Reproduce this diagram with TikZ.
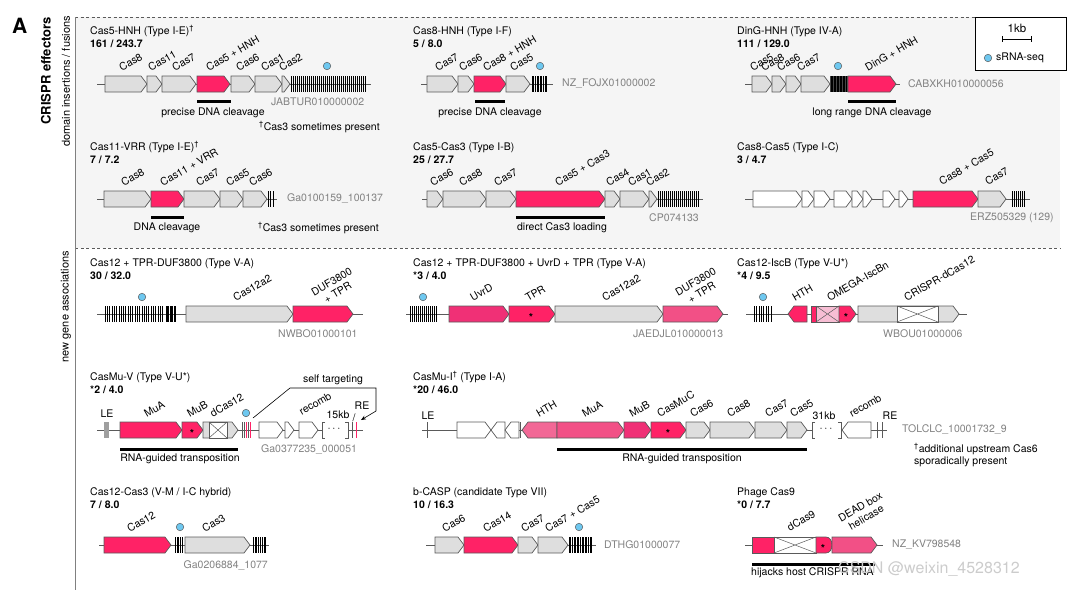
\documentclass[tikz,border=0pt]{standalone}
\usepackage{fontspec}
\setmainfont{TeX Gyre Heros}
\usetikzlibrary{arrows.meta}
\definecolor{pk}{RGB}{255,34,102}
\definecolor{pkB}{RGB}{240,48,118}
\definecolor{pkC}{RGB}{242,80,134}
\definecolor{pkD}{RGB}{242,104,150}
\definecolor{pkL}{RGB}{247,190,212}
\definecolor{gf}{RGB}{222,222,222}
\definecolor{gd}{RGB}{90,90,90}
\definecolor{accc}{RGB}{130,130,130}
\definecolor{panel}{RGB}{245,245,245}
\definecolor{sky}{RGB}{110,200,240}
\tikzset{
  gn/.style={draw=gd, line width=0.7pt, line join=miter},
  bb/.style={draw=gd, line width=0.8pt},
  arl/.style={black, line width=0.55pt},
  glab/.style={anchor=south west, rotate=30, inner sep=0pt, font=\fontsize{10.5}{12}\selectfont},
  ttl/.style={anchor=base west, inner sep=0pt, font=\fontsize{10.5}{12}\selectfont},
  cnt/.style={anchor=base west, inner sep=0pt, font=\fontsize{10.5}{12}\selectfont\bfseries},
  acc/.style={anchor=west, inner sep=0pt, text=accc, font=\fontsize{10.5}{12}\selectfont},
  note/.style={inner sep=0pt, font=\fontsize{10.5}{12}\selectfont},
  bar/.style={line width=3pt, black},
  dot/.style={circle, fill=sky, draw=gd, line width=0.5pt, minimum size=7.5pt, inner sep=0pt},
  star/.style={inner sep=0pt, font=\fontsize{11}{11}\selectfont\bfseries},
}
\newcommand\gene[4]{\pgfmathsetmacro\gtip{min(6,(#2)-(#1))}\draw[gn,fill=#4] (#1,{#3-8}) -- ({#2-\gtip},{#3-8}) -- (#2,#3) -- ({#2-\gtip},{#3+8}) -- (#1,{#3+8}) -- cycle;}
\newcommand\rgene[4]{\pgfmathsetmacro\gtip{min(6,(#2)-(#1))}\draw[gn,fill=#4] (#2,{#3-8}) -- ({#1+\gtip},{#3-8}) -- (#1,#3) -- ({#1+\gtip},{#3+8}) -- (#2,{#3+8}) -- cycle;}
\newcommand\xbox[4]{\draw[gn,fill=#4] (#1,{#3-8}) rectangle (#2,{#3+8}); \draw[gd,line width=0.5pt] (#1,{#3-8}) -- (#2,{#3+8}) (#1,{#3+8}) -- (#2,{#3-8});}
\newcommand\arr[4]{\pgfmathsetmacro\asec{#1+#3}\foreach \i in {#1,\asec,...,#2} {\draw[arl] (\i,{#4-8}) -- (\i,{#4+8});}}
\newcommand\glab[4]{\node[glab] (#1) at (#2,#3) {#4};}
\begin{document}
\begin{tikzpicture}[x=1pt,y=-1pt]
\useasboundingbox (0,0) rectangle (1072,590);
% panels
\fill[panel] (75,17) rectangle (1060,248);
\draw[gd, dashed, dash pattern=on 3pt off 2.5pt, line width=0.6pt] (75,17) -- (1060,17) (75,248) -- (1060,248);
\draw[gray, line width=1pt] (75,17) -- (75,590);
\node[anchor=base west, inner sep=0pt, font=\fontsize{21}{21}\selectfont\bfseries] (lA) at (12,33) {A};
\node[rotate=90, anchor=east, inner sep=0pt, font=\fontsize{13}{13}\selectfont\bfseries] (side1) at (46,17) {CRISPR effectors};
\node[rotate=90, anchor=east, inner sep=0pt, font=\fontsize{11}{11}\selectfont] (side2) at (66,16) {domain insertions / fusions};
\node[rotate=90, anchor=east, inner sep=0pt, font=\fontsize{11}{11}\selectfont] (side3) at (66,251) {new gene associations};
% legend
\draw[black, fill=white, line width=0.8pt] (975,17) rectangle (1066,70);
\node[note, font=\fontsize{11.5}{12}\selectfont] (kb) at (1017,28) {1kb};
\draw[line width=0.8pt] (1002,39) -- (1031,39) (1002,36) -- (1002,42) (1031,36) -- (1031,42);
\node[dot] (ldot) at (988,58) {};
\node[note, anchor=west] (lsr) at (996,58) {sRNA-seq};

% ---------- Locus 1: Cas5-HNH
\node[ttl] (t1) at (90,34) {Cas5-HNH (Type I-E)\textsuperscript{\textdagger}};
\node[cnt] (c1) at (90,47) {161 / 243.7};
\draw[bb] (97,84) -- (371,84);
\gene{105}{147}{84}{gf}\gene{147}{162}{84}{gf}\gene{162}{196}{84}{gf}
\gene{197}{230}{84}{pk}\gene{231}{255}{84}{gf}\gene{255}{282}{84}{gf}\gene{282}{290}{84}{gf}
\arr{291}{366}{2}{84}
\node[dot] (d1) at (327,66) {};
\glab{g1a}{122}{72}{Cas8}\glab{g1b}{151}{72}{Cas11}\glab{g1c}{175}{72}{Cas7}
\glab{g1d}{209}{72}{Cas5 + HNH}\glab{g1e}{239}{72}{Cas6}\glab{g1f}{264}{72}{Cas1}\glab{g1g}{282}{72}{Cas2}
\draw[bar] (197,101) -- (231,101);
\node[note] (n1) at (213,113) {precise DNA cleavage};
\node[acc] (a1) at (271,102) {JABTUR010000002};
\node[note, anchor=west] (n1b) at (259,127) {\textsuperscript{\textdagger}Cas3 sometimes present};

% ---------- Locus 2: Cas8-HNH
\node[ttl] (t2) at (413,34) {Cas8-HNH (Type I-F)};
\node[cnt] (c2) at (413,47) {5 / 8.0};
\draw[bb] (421,84) -- (553,84);
\gene{427}{458}{84}{gf}\gene{458}{474}{84}{gf}\gene{474}{506}{84}{pk}\gene{506}{530}{84}{gf}
\arr{532}{548}{1.6}{84}
\node[dot] (d2) at (540,66) {};
\glab{g2a}{438}{72}{Cas7}\glab{g2b}{462}{72}{Cas6}\glab{g2c}{486}{72}{Cas8 + HNH}\glab{g2d}{513}{72}{Cas5}
\draw[bar] (475,101) -- (505,101);
\node[note] (n2) at (490,113) {precise DNA cleavage};
\node[acc] (a2) at (562,84) {NZ\_FOJX01000002};

% ---------- Locus 3: DinG-HNH
\node[ttl] (t3) at (737,34) {DinG-HNH (Type IV-A)};
\node[cnt] (c3) at (737,47) {111 / 129.0};
\draw[bb] (745,84) -- (900,84);
\gene{752}{772}{84}{gf}\gene{772}{786}{84}{gf}\gene{786}{801}{84}{gf}\gene{801}{830}{84}{gf}
\fill[gray!55!black] (830,76) rectangle (848,92);
\arr{831}{847}{1.5}{84}
\gene{848}{896}{84}{pk}
\node[dot] (d3) at (838,66) {};
\glab{g3a}{753}{72}{Cas5}\glab{g3b}{764}{72}{Cas8}\glab{g3c}{780}{72}{Cas6}\glab{g3d}{800}{72}{Cas7}\glab{g3e}{868}{72}{DinG + HNH}
\draw[bar] (848,101) -- (896,101);
\node[note] (n3) at (872,113) {long range DNA cleavage};
\node[acc] (a3) at (908,84) {CABXKH010000056};

% ---------- Locus 4: Cas11-VRR
\node[ttl] (t4) at (90,150) {Cas11-VRR (Type I-E)\textsuperscript{\textdagger}};
\node[cnt] (c4) at (90,163) {7 / 7.2};
\draw[bb] (97,199) -- (277,199);
\gene{104}{151}{199}{gf}\gene{151}{184}{199}{pk}\gene{184}{220}{199}{gf}\gene{220}{243}{199}{gf}\gene{243}{267}{199}{gf}
\arr{268}{274}{2.5}{199}
\glab{g4a}{124}{187}{Cas8}\glab{g4b}{163}{187}{Cas11 + VRR}\glab{g4c}{199}{187}{Cas7}\glab{g4d}{229}{187}{Cas5}\glab{g4e}{252}{187}{Cas6}
\draw[bar] (151,217) -- (184,217);
\node[note] (n4) at (167,228) {DNA cleavage};
\node[acc] (a4) at (287,199) {Ga0100159\_100137};
\node[note, anchor=west] (n4b) at (258,228) {\textsuperscript{\textdagger}Cas3 sometimes present};

% ---------- Locus 5: Cas5-Cas3
\node[ttl] (t5) at (413,150) {Cas5-Cas3 (Type I-B)};
\node[cnt] (c5) at (413,163) {25 / 27.7};
\draw[bb] (422,199) -- (703,199);
\gene{427}{443}{199}{gf}\gene{443}{486}{199}{gf}\gene{486}{516}{199}{gf}\gene{516}{605}{199}{pk}
\gene{605}{620}{199}{gf}\gene{620}{649}{199}{gf}\gene{649}{657}{199}{gf}
\arr{658}{698}{2}{199}
\glab{g5a}{433}{187}{Cas6}\glab{g5b}{462}{187}{Cas8}\glab{g5c}{497}{187}{Cas7}\glab{g5d}{558}{187}{Cas5 + Cas3}
\glab{g5e}{609}{187}{Cas4}\glab{g5f}{631}{187}{Cas1}\glab{g5g}{649}{187}{Cas2}
\draw[bar] (516,217) -- (605,217);
\node[note] (n5) at (562,228) {direct Cas3 loading};
\node[acc] (a5) at (649,218) {CP074133};

% ---------- Locus 6: Cas8-Cas5
\node[ttl] (t6) at (737,150) {Cas8-Cas5 (Type I-C)};
\node[cnt] (c6) at (737,163) {3 / 4.7};
\draw[bb] (745,199) -- (1030,199);
\gene{753}{802}{199}{white}\gene{802}{814}{199}{white}\gene{814}{830}{199}{white}
\gene{834}{852}{199}{white}\gene{852}{863}{199}{white}\gene{863}{872}{199}{white}
\gene{883}{895}{199}{white}\gene{899}{908}{199}{white}
\gene{913}{978}{199}{pk}\gene{978}{1006}{199}{gf}
\arr{1012}{1025}{2}{199}
\glab{g6a}{942}{186}{Cas8 + Cas5}\glab{g6b}{988}{186}{Cas7}
\node[acc] (a6) at (970,218) {ERZ505329 (129)};

% ---------- Locus 7: Cas12 + TPR-DUF3800
\node[ttl] (t7) at (90,266) {Cas12 + TPR-DUF3800 (Type V-A)};
\node[cnt] (c7) at (90,279) {30 / 32.0};
\draw[bb] (97,314) -- (363,314);
\arr{105}{163}{2.3}{314}
\arr{166}{176}{1.3}{314}
\gene{186}{293}{314}{gf}\gene{293}{353}{314}{pk}
\node[dot] (d7) at (142,297) {};
\glab{g7a}{236}{302}{Cas12a2}
\node[glab, align=center] (g7b) at (320,307) {DUF3800\\+ TPR};
\node[acc] (a7) at (278,334) {NWBO01000101};

% ---------- Locus 8
\node[ttl] (t8) at (413,266) {Cas12 + TPR-DUF3800 + UvrD + TPR (Type V-A)};
\node[cnt] (c8) at (413,279) {*3 / 4.0};
\draw[bb] (406,314) -- (728,314);
\arr{410}{436}{2}{314}
\gene{449}{509}{314}{pkB}\gene{509}{555}{314}{pk}\gene{555}{663}{314}{gf}\gene{663}{723}{314}{pkC}
\node[star] (s8) at (531,317) {*};
\node[dot] (d8) at (423,297) {};
\glab{g8a}{473}{302}{UvrD}\glab{g8b}{528}{302}{TPR}\glab{g8c}{605}{302}{Cas12a2}
\node[glab, align=center] (g8d) at (684,307) {DUF3800\\+ TPR};
\node[acc] (a8) at (633,334) {JAEDJL010000013};

% ---------- Locus 9: Cas12-IscB
\node[ttl] (t9) at (737,266) {Cas12-IscB (Type V-U*)};
\node[cnt] (c9) at (737,279) {*4 / 9.5};
\draw[bb] (746,314) -- (967,314);
\arr{754}{773}{2.4}{314}
\rgene{788}{807}{314}{pk}
\draw[gn,fill=pk] (811,306) rectangle (816,322);
\xbox{816}{839}{314}{pkL}
\gene{839}{856}{314}{pk}
\node[star] (s9) at (846,317) {*};
\gene{858}{959}{314}{gf}
\xbox{897}{938}{314}{white}
\node[dot] (d9) at (763,297) {};
\glab{g9a}{795}{302}{HTH}\glab{g9b}{830}{302}{OMEGA-IscBn}\glab{g9c}{907}{302}{CRISPR-dCas12}
\node[acc] (a9) at (883,334) {WBOU01000006};

% ---------- Locus 10: CasMu-V
\node[ttl] (t10) at (90,380) {CasMu-V (Type V-U*)};
\node[cnt] (c10) at (90,393) {*2 / 4.0};
\draw[bb] (97,430) -- (363,430);
\fill[gray!75] (104,422) rectangle (109,438);
\gene{120}{182}{430}{pk}\gene{182}{203}{430}{pk}
\node[star] (s10) at (192,433) {*};
\gene{203}{238}{430}{gf}
\xbox{209}{227}{430}{white}
\foreach \xx/\cc in {242/gd,244/gd,246/pk,248/gd,250/pk} {\draw[\cc, line width=0.6pt] (\xx,422) -- (\xx,438);}
\gene{259}{283}{430}{white}\gene{285}{294}{430}{white}\gene{299}{318}{430}{white}
\fill[white] (322,421) rectangle (348,439);
\draw[gd, line width=0.8pt] (325,422) -- (322,422) -- (322,438) -- (325,438);
\draw[gd, line width=0.8pt] (345,422) -- (348,422) -- (348,438) -- (345,438);
\node[note] (dots10) at (334,429) {$\cdots$};
\draw[gd, line width=0.8pt] (352,422) -- (352,438);
\draw[pk, line width=0.8pt] (356,422) -- (356,438);
\node[dot] (d10) at (246,413) {};
\node[note] (le10) at (107,414) {LE};
\node[note] (re10) at (362,406) {RE};
\node[note] (kb10) at (338,415) {15kb};
\node[note] (sl10) at (354,418) {/};
\glab{g10a}{147}{418}{MuA}\glab{g10b}{190}{418}{MuB}\glab{g10c}{213}{418}{dCas12}\glab{g10d}{302}{416}{recomb}
\node[note] (st) at (333,380) {self targeting};
\coordinate (st0) at (253,418);
\coordinate (st1) at (361,420);
\draw[black, line width=0.6pt, -{Stealth[length=5pt,width=4pt]}] (st0) -- (290,388) -- (376,388) -- (376,411) -- (st1);
\draw[bar] (120,449) -- (238,449);
\node[note] (n10) at (180,459) {RNA-guided transposition};
\node[acc] (a10) at (261,449) {Ga0377235\_000051};

% ---------- Locus 11: CasMu-I
\node[ttl] (t11) at (413,380) {CasMu-I\textsuperscript{\textdagger} (Type I-A)};
\node[cnt] (c11) at (413,393) {*20 / 46.0};
\draw[bb] (422,430) -- (887,430);
\draw[gd, line width=0.8pt] (427,422) -- (427,438);
\gene{457}{491}{430}{white}\rgene{491}{505}{430}{white}\rgene{505}{519}{430}{white}
\draw[gd, line width=0.8pt] (520,422) -- (520,438);
\rgene{522}{557}{430}{pkD}
\gene{557}{624}{430}{pkC}\gene{624}{651}{430}{pkB}\gene{651}{686}{430}{pk}
\node[star] (s11) at (668,433) {*};
\gene{686}{710}{430}{gf}\gene{710}{755}{430}{gf}\gene{755}{787}{430}{gf}\gene{787}{807}{430}{gf}
\fill[white] (812,421) rectangle (841,439);
\draw[gd, line width=0.8pt] (815,422) -- (812,422) -- (812,438) -- (815,438);
\draw[gd, line width=0.8pt] (838,422) -- (841,422) -- (841,438) -- (838,438);
\node[note] (dots11) at (826,429) {$\cdots$};
\rgene{842}{871}{430}{white}
\draw[gd, line width=0.8pt] (877,422) -- (877,438) (882,422) -- (882,438);
\node[note] (le11) at (428,416) {LE};
\node[note] (re11) at (890,416) {RE};
\node[note] (kb11) at (824,416) {31kb};
\glab{g11a}{539}{418}{HTH}\glab{g11b}{585}{418}{MuA}\glab{g11c}{632}{418}{MuB}\glab{g11d}{660}{418}{CasMuC}
\glab{g11e}{693}{418}{Cas6}\glab{g11f}{730}{418}{Cas8}\glab{g11g}{768}{418}{Cas7}\glab{g11h}{793}{418}{Cas5}\glab{g11i}{852}{418}{recomb}
\draw[bar] (557,449) -- (807,449);
\node[note] (n11) at (682,459) {RNA-guided transposition};
\node[acc] (a11) at (902,430) {TOLCLC\_10001732\_9};
\node[note, anchor=west] (n11b) at (914,449) {\textsuperscript{\textdagger}additional upstream Cas6};
\node[note, anchor=west] (n11c) at (914,462) {sporadically present};

% ---------- Locus 12: Cas12-Cas3
\node[ttl] (t12) at (90,495) {Cas12-Cas3 (V-M / I-C hybrid)};
\node[cnt] (c12) at (90,508) {7 / 8.0};
\draw[bb] (99,545) -- (269,545);
\gene{104}{171}{545}{pk}
\arr{175}{184}{1.8}{545}
\gene{185}{250}{545}{gf}
\arr{253}{266}{1.8}{545}
\node[dot] (d12) at (180,527) {};
\glab{g12a}{130}{533}{Cas12}\glab{g12b}{205}{533}{Cas3}
\node[acc, anchor=east] (a12) at (268,565) {Ga0206884\_1077};

% ---------- Locus 13: b-CASP
\node[ttl] (t13) at (413,495) {b-CASP (candidate Type VII)};
\node[cnt] (c13) at (413,508) {10 / 16.3};
\draw[bb] (426,545) -- (596,545);
\gene{435}{464}{545}{gf}\gene{464}{518}{545}{pk}\gene{518}{538}{545}{gf}\gene{538}{568}{545}{gf}
\arr{569}{592}{1.6}{545}
\node[dot] (d13) at (579,527) {};
\glab{g13a}{445}{533}{Cas6}\glab{g13b}{486}{533}{Cas14}\glab{g13c}{524}{533}{Cas7}\glab{g13d}{548}{533}{Cas7 + Cas5}
\node[acc] (a13) at (604,545) {DTHG01000077};

% ---------- Locus 14: Phage Cas9
\node[ttl] (t14) at (737,495) {Phage Cas9};
\node[cnt] (c14) at (737,508) {*0 / 7.7};
\draw[bb] (745,545) -- (883,545);
\draw[gn,fill=pk] (752,537) rectangle (774,553);
\xbox{774}{816}{545}{white}
\draw[gn,fill=pk] (816,537) -- (826,537) .. controls (834,537) and (834,553) .. (826,553) -- (816,553) -- cycle;
\node[star] (s14) at (823,548) {*};
\gene{832}{877}{545}{pkC}
\glab{g14a}{790}{532}{dCas9}
\node[glab, align=center] (g14b) at (847,533) {DEAD box\\helicase};
\node[acc] (a14) at (892,545) {NZ\_KV798548};
\draw[bar] (752,564) -- (875,564);
\node[note, anchor=west] (n14) at (751,573) {hijacks host CRISPR RNA};
\node[anchor=west, inner sep=0pt, text=gray!40, font=\fontsize{16}{16}\selectfont] (wm) at (838,569) {CSDN @weixin\_4528312};
\end{tikzpicture}
\end{document}
